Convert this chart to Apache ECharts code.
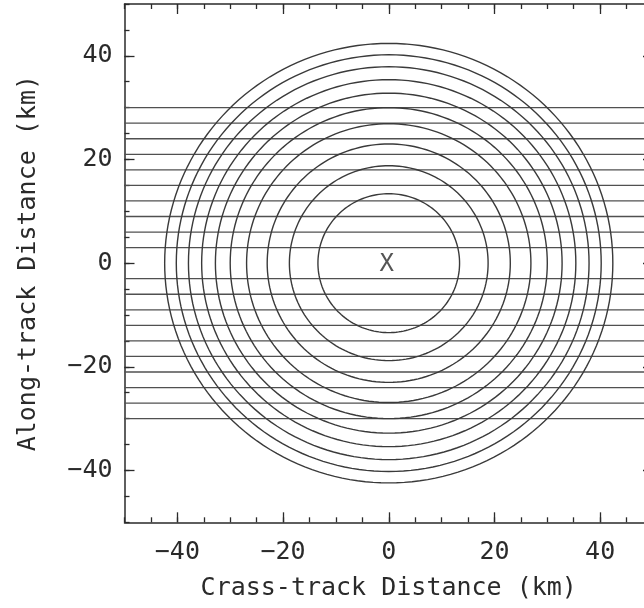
<!DOCTYPE html>
<html>
<head>
<meta charset="utf-8">
<script src="https://cdn.jsdelivr.net/npm/echarts@6/dist/echarts.min.js"></script>
<style>
  html, body { margin: 0; padding: 0; background: #fff; }
  #chart { width: 644px; height: 608px; }
</style>
</head>
<body>
<div id="chart"></div>
<script>
// tick positions (km)
const majorTicks = [-40, -20, 0, 20, 40]
const minorTicks = [-50, -45, -40, -35, -30, -25, -20, -15, -10, -5, 0, 5, 10, 15, 20, 25, 30, 35, 40, 45, 50]
// along-track offsets of the scan lines (km)
const trackOffsets = [-30, -27, -24, -21, -18, -15, -12, -9, -6, -3, 3, 6, 9, 12, 15, 18, 21, 24, 27, 30]
// radii of the range rings (km)
const ringRadii = [13.4, 18.8, 23.0, 26.9, 30.0, 32.8, 35.4, 37.9, 40.2, 42.4]
const centerPoint = [0, 0]

const AX_MIN = -50, AX_MAX = 50
const font = 'DejaVu Sans Mono'
const ink = '#2a2a2a'

const chart = echarts.init(document.getElementById('chart'))

const fmt = v => String(v).replace('-', '\u2212')

// one axis carries line + minor ticks (+ labels), an overlay carries the major ticks
const makeAxes = (positions, name, nameGap, labelMargin) => {
  const axes = []
  positions.forEach((pos, i) => {
    const primary = i === 0
    axes.push({
      type: 'value', position: pos, min: AX_MIN, max: AX_MAX,
      name: primary ? name : '',
      nameLocation: 'middle', nameGap: nameGap,
      nameTextStyle: { fontFamily: font, fontSize: 25, color: ink },
      axisLine: { show: true, onZero: false, lineStyle: { color: ink, width: 1.5 } },
      axisTick: { show: true, inside: true, length: 5, customValues: minorTicks, lineStyle: { color: ink, width: 1.3 } },
      axisLabel: primary
        ? { show: true, customValues: majorTicks, formatter: fmt, fontFamily: font, fontSize: 25, color: ink, margin: labelMargin }
        : { show: false },
      splitLine: { show: false }
    })
    axes.push({
      type: 'value', position: pos, min: AX_MIN, max: AX_MAX,
      axisLine: { show: false, onZero: false },
      axisTick: { show: true, inside: true, length: 10, customValues: majorTicks, lineStyle: { color: ink, width: 1.3 } },
      axisLabel: { show: false },
      splitLine: { show: false }
    })
  })
  return axes
}

const option = {
  animation: false,
  backgroundColor: '#fff',
  grid: { left: 124.5, top: 4, width: 528.5, height: 518.3, containLabel: false, outerBoundsMode: 'none' },
  xAxis: makeAxes(['bottom', 'top'], 'Crass-track Distance (km)', 54, 18),
  yAxis: makeAxes(['left', 'right'], 'Along-track Distance (km)', 84, 12),
  series: [
    {
      name: 'tracks',
      type: 'custom',
      clip: false,
      data: trackOffsets.map(y => [0, y]),
      renderItem: (params, api) => {
        const y = api.value(1)
        const a = api.coord([AX_MIN, y])
        const b = api.coord([AX_MAX, y])
        return {
          type: 'line',
          shape: { x1: a[0], y1: a[1], x2: b[0], y2: b[1] },
          style: { stroke: '#505050', lineWidth: 1.3 }
        }
      }
    },
    {
      name: 'rings',
      type: 'custom',
      data: ringRadii.map(r => [centerPoint[0], centerPoint[1], r]),
      renderItem: (params, api) => {
        const cx = api.value(0), cy = api.value(1), r = api.value(2)
        const pts = []
        for (let d = 0; d <= 360; d += 2) {
          const t = d * Math.PI / 180
          pts.push(api.coord([cx + r * Math.cos(t), cy + r * Math.sin(t)]))
        }
        return {
          type: 'polyline',
          shape: { points: pts },
          style: { stroke: '#3a3a3a', lineWidth: 1.4, fill: null }
        }
      }
    },
    {
      name: 'center',
      type: 'custom',
      data: [centerPoint],
      renderItem: (params, api) => {
        const p = api.coord([api.value(0), api.value(1)])
        return {
          type: 'text',
          x: p[0] - 2, y: p[1] + 2,
          style: { text: 'X', fontFamily: font, fontSize: 24, fill: '#555', align: 'center', verticalAlign: 'middle' }
        }
      }
    }
  ]
}

chart.setOption(option)
</script>
</body>
</html>
